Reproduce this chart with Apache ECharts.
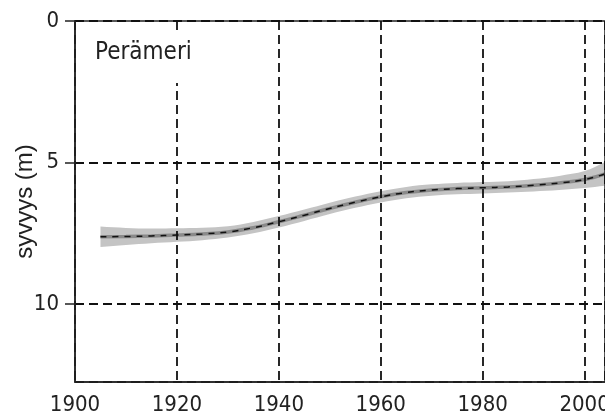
<!DOCTYPE html>
<html>
<head>
<meta charset="utf-8">
<script src="https://cdn.jsdelivr.net/npm/echarts@6/dist/echarts.min.js"></script>
<style>
html,body{margin:0;padding:0;background:#fff;}
#chart{width:605px;height:419px;}
</style>
</head>
<body>
<div id="chart"></div>
<script>
// Data
var years = [1905, 1910, 1915, 1920, 1925, 1930, 1935, 1940, 1945, 1950, 1955, 1960, 1965, 1970, 1975, 1980, 1985, 1990, 1995, 2000, 2004];
var depthMean = [7.62, 7.61, 7.59, 7.56, 7.52, 7.45, 7.30, 7.09, 6.86, 6.62, 6.40, 6.21, 6.06, 5.97, 5.92, 5.89, 5.86, 5.80, 5.72, 5.60, 5.40];
var bandUpper = [7.26, 7.31, 7.33, 7.32, 7.30, 7.25, 7.10, 6.89, 6.66, 6.42, 6.20, 6.01, 5.86, 5.77, 5.72, 5.69, 5.66, 5.58, 5.47, 5.30, 4.98];
var bandLower = [7.98, 7.91, 7.85, 7.80, 7.74, 7.65, 7.50, 7.29, 7.06, 6.82, 6.60, 6.41, 6.26, 6.17, 6.12, 6.09, 6.06, 6.02, 5.97, 5.90, 5.82];
var xTicks = [1900, 1920, 1940, 1960, 1980, 2000];
var yTicks = [0, 5, 10];
var regionLabel = 'Perämeri';
var yName = 'syvyys (m)';

var pair = function (a) { return years.map(function (y, i) { return [y, a[i]]; }); };

// band polygon: drawn through the axes' scales via api.coord
function renderBand(params, api) {
  var n = years.length, pts = [], i, p;
  for (i = 0; i < n; i++) {
    p = api.coord([years[i], bandUpper[i]]);
    pts.push(p);
    if (i === 0 || i === n - 1) pts.push(p.slice()); // keep the ends square
  }
  for (i = n - 1; i >= 0; i--) {
    p = api.coord([years[i], bandLower[i]]);
    pts.push(p);
    if (i === 0 || i === n - 1) pts.push(p.slice());
  }
  return {
    type: 'polygon',
    shape: {points: pts, smooth: 0.35},
    style: {fill: '#c4c4c4', stroke: null}
  };
}

var narrow = '"Liberation Sans Narrow", "Arial Narrow", "DejaVu Sans Condensed", sans-serif';
var chart = echarts.init(document.getElementById('chart'), null, {renderer: 'canvas'});
chart.setOption({
  animation: false,
  backgroundColor: '#fff',
  title: {
    text: regionLabel,
    left: 88,
    top: 31,
    padding: [10, 8, 18, 7],
    backgroundColor: '#fff',
    z: 10,
    textStyle: {fontFamily: narrow, fontSize: 24, fontWeight: 'normal', color: '#222'}
  },
  grid: {left: 75, top: 21, right: 0, bottom: 37, outerBoundsMode: 'none', containLabel: false,
    show: true, borderColor: '#222', borderWidth: 1.5, backgroundColor: 'transparent', z: 5},
  xAxis: {
    type: 'value',
    z: 5,
    min: 1900, max: 2004, interval: 20,
    axisLine: {onZero: false, lineStyle: {color: '#222', width: 1.5}},
    axisTick: {show: false},
    axisLabel: {showMaxLabel: false, margin: 12, fontFamily: narrow, fontSize: 22, color: '#222',
      formatter: function (v) { return xTicks.indexOf(v) >= 0 ? String(v) : ''; }},
    splitLine: {show: true, lineStyle: {color: '#111', width: 1.8, type: [9, 5]}}
  },
  yAxis: {
    type: 'value',
    z: 5,
    inverse: true,
    min: 0, max: 12.75, interval: 5,
    name: yName,
    nameLocation: 'middle',
    nameGap: 38,
    nameMoveOverlap: false,
    nameTextStyle: {fontFamily: '"Liberation Sans", Arial, sans-serif', fontSize: 24, color: '#222'},
    axisLine: {lineStyle: {color: '#222', width: 1.5}},
    axisTick: {show: true, inside: false, length: 10, lineStyle: {color: '#222', width: 1.5}},
    axisLabel: {showMaxLabel: false, margin: 16, fontFamily: narrow, fontSize: 22, color: '#222',
      formatter: function (v) { return yTicks.indexOf(v) >= 0 ? String(v) : ''; }},
    splitLine: {show: true, lineStyle: {color: '#111', width: 1.8, type: [9, 5]}}
  },
  series: [
    {type: 'custom', renderItem: renderBand, data: [[years[0], bandUpper[0]]], silent: true, z: 1,
      encode: {x: 0, y: 1}},
    {type: 'line', data: pair(depthMean), smooth: true, symbol: 'none', lineStyle: {color: '#8a8a8a', width: 3.5}, z: 3},
    {type: 'line', data: pair(depthMean), smooth: true, symbol: 'none', lineStyle: {color: '#111', width: 1.5, type: [6, 6]}, z: 4}
  ]
});
</script>
</body>
</html>
